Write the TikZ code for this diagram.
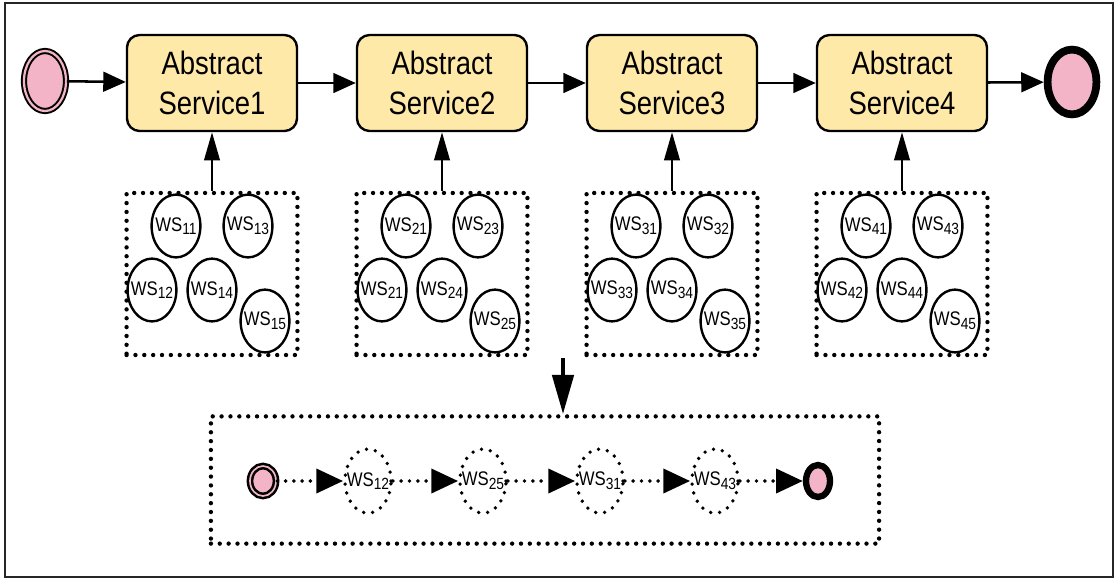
\documentclass[tikz,border=0pt]{standalone}
\usepackage{fontspec}
\setmainfont{Liberation Sans}[FakeStretch=0.85]
\usetikzlibrary{arrows.meta,shapes.geometric}
\definecolor{pinkfill}{RGB}{243,180,200}
\definecolor{servfill}{RGB}{255,233,168}
\newcommand{\ws}[1]{\makebox[0pt]{WS\raisebox{-0.35ex}{\fontsize{11.5}{11.5}\selectfont #1}}}

\begin{document}
\begin{tikzpicture}[x=0.025cm,y=-0.025cm,
	serv/.style={draw,line width=1.7pt,rounded corners=9pt,fill=servfill,
		minimum width=4.25cm,minimum height=2.4cm,align=center,
		font=\fontsize{23}{29}\selectfont},
	wsnode/.style={ellipse,draw,line width=1.7pt,fill=white,inner sep=0pt,
		minimum width=1.22cm,minimum height=1.57cm,font=\fontsize{14}{14}\selectfont},
	pick/.style={ellipse,draw,line width=2.7pt,dash pattern=on 0pt off 6.4pt,line cap=round,
		inner sep=0pt,minimum width=1.15cm,minimum height=1.6cm,font=\fontsize{14}{14}\selectfont},
	group/.style={draw,line width=3.1pt,dash pattern=on 0pt off 6.3pt,line cap=round,
		minimum width=4.27cm,minimum height=4.05cm},
	flow/.style={line width=1.8pt,-{Triangle[length=16pt,width=14pt]}},
	up/.style={line width=1.8pt,-{Triangle[length=20pt,width=11pt]}},
	dflow/.style={line width=2.8pt,dash pattern=on 0pt off 5.9pt,line cap=round,
		-{Triangle[length=19pt,width=17pt]}}]

	% frame
	\useasboundingbox (0,0) rectangle (1120,579);
	\draw[line width=1.6pt,black!85] (5,3) rectangle (1113,577);

	% abstract flow
	\node[ellipse,draw,line width=1.4pt,double=pinkfill,double distance=1.6pt,fill=pinkfill,
		minimum width=1.05cm,minimum height=1.5cm](start)at(45,81) {};
	\node[serv](s1)at(212,83) {Abstract\\Service1};
	\node[serv](s2)at(442,83) {Abstract\\Service2};
	\node[serv](s3)at(672,83) {Abstract\\Service3};
	\node[serv](s4)at(902,83) {Abstract\\Service4};
	\node[ellipse,draw,line width=5.5pt,fill=pinkfill,
		minimum width=1.22cm,minimum height=1.62cm](end)at(1072,82) {};

	\draw[flow](start) -- (s1);
	\draw[flow](s1) -- (s2);
	\draw[flow](s2) -- (s3);
	\draw[flow](s3) -- (s4);
	\draw[flow](s4) -- (end);

	% candidate groups
	\node[group](g1)at(212,274) {};
	\node[group](g2)at(442,274) {};
	\node[group](g3)at(672,274) {};
	\node[group](g4)at(902,274) {};

	\draw[up](g1) -- (s1);
	\draw[up](g2) -- (s2);
	\draw[up](g3) -- (s3);
	\draw[up](g4) -- (s4);

	\node[wsnode](w11)at(176,226) {\ws{11}};
	\node[wsnode](w13)at(248,226) {\ws{13}};
	\node[wsnode](w12)at(152,290) {\ws{12}};
	\node[wsnode](w14)at(212,290) {\ws{14}};
	\node[wsnode](w15)at(265,321) {\ws{15}};

	\node[wsnode](w21)at(406,226) {\ws{21}};
	\node[wsnode](w23)at(478,226) {\ws{23}};
	\node[wsnode](w22)at(382,290) {\ws{21}};
	\node[wsnode](w24)at(442,290) {\ws{24}};
	\node[wsnode](w25)at(495,321) {\ws{25}};

	\node[wsnode](w31)at(636,226) {\ws{31}};
	\node[wsnode](w32)at(708,226) {\ws{32}};
	\node[wsnode](w33)at(612,290) {\ws{33}};
	\node[wsnode](w34)at(672,290) {\ws{34}};
	\node[wsnode](w35)at(725,321) {\ws{35}};

	\node[wsnode](w41)at(866,226) {\ws{41}};
	\node[wsnode](w43)at(938,226) {\ws{43}};
	\node[wsnode](w42)at(842,290) {\ws{42}};
	\node[wsnode](w44)at(902,290) {\ws{44}};
	\node[wsnode](w45)at(955,321) {\ws{45}};

	% selected composition
	\node[draw,line width=3.1pt,dash pattern=on 0pt off 6.3pt,line cap=round,
		minimum width=16.7cm,minimum height=3.18cm](sel)at(545,480) {};
	\coordinate(top)at(563,358);
	\draw[line width=3.2pt,-{Triangle[length=28pt,width=15pt]}](top) -- (top |- sel.north);

	\node[ellipse,draw,line width=1.8pt,double=pinkfill,double distance=1.2pt,fill=pinkfill,
		minimum width=0.65cm,minimum height=0.75cm](bs)at(263,481) {};
	\node[pick](p12)at(368,481) {\ws{12}};
	\node[pick](p25)at(483,481) {\ws{25}};
	\node[pick](p31)at(600,481) {\ws{31}};
	\node[pick](p43)at(715,481) {\ws{43}};
	\node[ellipse,draw,line width=4.5pt,fill=pinkfill,
		minimum width=0.6cm,minimum height=0.8cm](be)at(818,481) {};

	\draw[dflow](bs) -- (p12);
	\draw[dflow](p12) -- (p25);
	\draw[dflow](p25) -- (p31);
	\draw[dflow](p31) -- (p43);
	\draw[dflow](p43) -- (be);
\end{tikzpicture}
\end{document}
